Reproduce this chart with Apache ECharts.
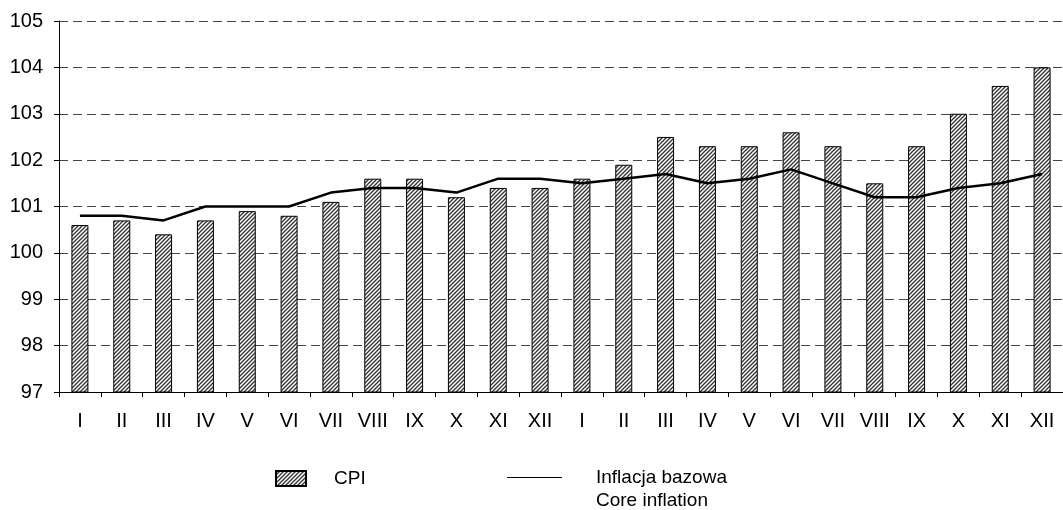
<!DOCTYPE html>
<html>
<head>
<meta charset="utf-8">
<script src="https://cdn.jsdelivr.net/npm/echarts@6/dist/echarts.min.js"></script>
<style>
  html, body { margin: 0; padding: 0; background: #fff; }
  #main { width: 1063px; height: 510px; }
</style>
</head>
<body>
<div id="main"></div>
<script>
const months = ['I', 'II', 'III', 'IV', 'V', 'VI', 'VII', 'VIII', 'IX', 'X', 'XI', 'XII'];
const categories = months.concat(months);
const cpi = [100.6, 100.7, 100.4, 100.7, 100.9, 100.8, 101.1, 101.6, 101.6, 101.2, 101.4, 101.4,
             101.6, 101.9, 102.5, 102.3, 102.3, 102.6, 102.3, 101.5, 102.3, 103.0, 103.6, 104.0];
const core = [100.8, 100.8, 100.7, 101.0, 101.0, 101.0, 101.3, 101.4, 101.4, 101.3, 101.6, 101.6,
              101.5, 101.6, 101.7, 101.5, 101.6, 101.8, 101.5, 101.2, 101.2, 101.4, 101.5, 101.7];
const yMin = 97, yMax = 105, yStep = 1;

// diagonal hatch for the CPI bars
function hatch() {
  const c = document.createElement('canvas');
  c.width = 4; c.height = 4;
  const ctx = c.getContext('2d');
  ctx.fillStyle = '#fff';
  ctx.fillRect(0, 0, 4, 4);
  ctx.strokeStyle = '#333';
  ctx.lineWidth = 1.3;
  ctx.beginPath();
  ctx.moveTo(-1, 5); ctx.lineTo(5, -1);
  ctx.moveTo(-1, 1); ctx.lineTo(1, -1);
  ctx.moveTo(3, 5); ctx.lineTo(5, 3);
  ctx.stroke();
  return c;
}

const font = 'Liberation Sans, Arial, sans-serif';
const chart = echarts.init(document.getElementById('main'));

const option = {
  animation: false,
  textStyle: { fontFamily: font },
  grid: { left: 59, top: 21, width: 1008, height: 371, containLabel: false },
  legend: [
    {
      data: [{ name: 'CPI', icon: 'rect' }],
      left: 275, top: 469,
      padding: 0,
      itemWidth: 30, itemHeight: 15,
      selectedMode: false,
      textStyle: { fontSize: 19, color: '#000', fontFamily: font, padding: [0, 0, 10, 23] }
    },
    {
      data: [{ name: 'Inflacja bazowa', icon: 'rect' }],
      left: 507, top: 468,
      padding: 0,
      itemWidth: 55, itemHeight: 1,
      selectedMode: false,
      textStyle: { fontSize: 19, color: '#000', fontFamily: font, padding: [0, 0, 0, 29] }
    }
  ],
  graphic: [{
    type: 'text', left: 596, top: 491,
    style: { text: 'Core inflation', fontSize: 19, fill: '#000', fontFamily: font }
  }],
  xAxis: {
    type: 'category',
    data: categories,
    axisLine: { lineStyle: { color: '#000', width: 1 } },
    axisTick: { show: true, length: 5, lineStyle: { color: '#000' } },
    axisLabel: { fontSize: 20, color: '#000', margin: 19, fontFamily: font, interval: 0 }
  },
  yAxis: {
    type: 'value',
    min: yMin, max: yMax, interval: yStep,
    axisLine: { show: true, lineStyle: { color: '#000', width: 1 } },
    axisTick: { show: true, length: 5, lineStyle: { color: '#000' } },
    axisLabel: { fontSize: 20, color: '#000', margin: 16, fontFamily: font },
    splitLine: { show: true, lineStyle: { color: '#444', type: [9, 5], width: 1 } }
  },
  series: [
    {
      name: 'CPI',
      type: 'bar',
      data: cpi,
      barWidth: 17,
      itemStyle: {
        color: { image: hatch(), repeat: 'repeat' },
        borderColor: '#000',
        borderWidth: 1
      }
    },
    {
      name: 'Inflacja bazowa',
      type: 'line',
      data: core,
      symbol: 'none',
      itemStyle: { color: '#000' },
      lineStyle: { color: '#000', width: 2.5 }
    }
  ]
};

chart.setOption(option);
</script>
</body>
</html>
